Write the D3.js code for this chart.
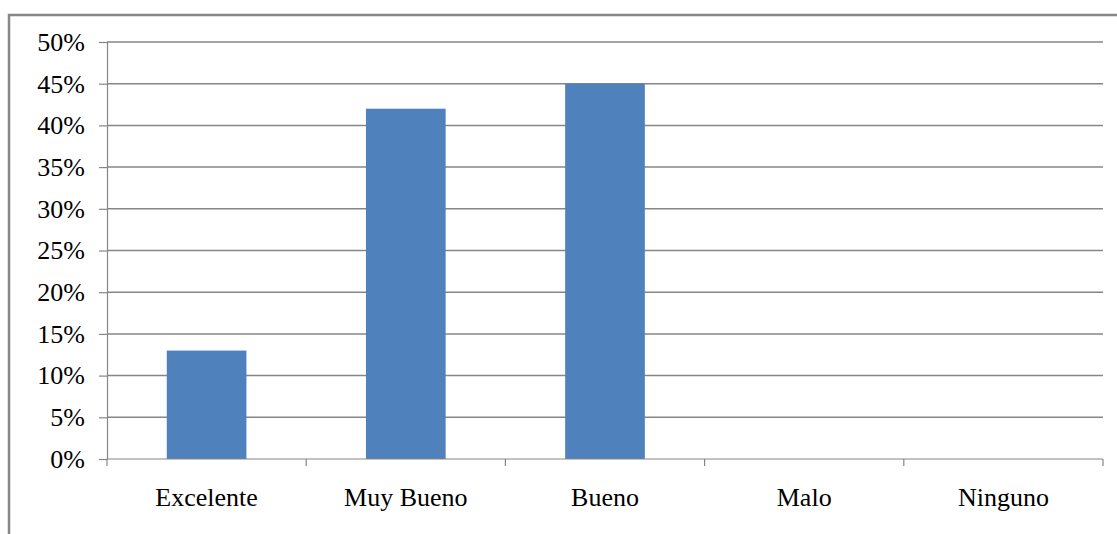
<!DOCTYPE html>
<html>
<head>
<meta charset="utf-8">
<script src="https://cdn.jsdelivr.net/npm/d3@7"></script>
<style>
  body { margin: 0; background: #fff; }
  svg { display: block; }
</style>
</head>
<body>
<svg></svg>
<script>
const categories = ['Excelente', 'Muy Bueno', 'Bueno', 'Malo', 'Ninguno'];
const values = [0.13, 0.42, 0.45, 0, 0];
const yTicks = [0, 0.05, 0.10, 0.15, 0.20, 0.25, 0.30, 0.35, 0.40, 0.45, 0.50];

const width = 1117, height = 534;
const margin = { top: 42, right: 14, bottom: 75, left: 107 };
const serif = '"Liberation Serif", "Times New Roman", serif';

const svg = d3.select('svg').attr('width', width).attr('height', height);

// outer chart frame (cut off at right and bottom)
svg.append('path')
    .attr('d', `M9,${height} V15 H${width}`)
    .attr('fill', 'none')
    .attr('stroke', '#878787')
    .attr('stroke-width', 2.5);

const x = d3.scaleBand()
    .domain(categories)
    .range([margin.left, width - margin.right])
    .paddingInner(0.6)
    .paddingOuter(0.3);

const y = d3.scaleLinear()
    .domain([0, 0.5])
    .range([height - margin.bottom, margin.top]);

// gridlines
svg.append('g')
    .selectAll('line')
    .data(yTicks.slice(1))
    .enter().append('line')
    .attr('x1', margin.left)
    .attr('x2', width - margin.right)
    .attr('y1', d => y(d))
    .attr('y2', d => y(d))
    .attr('stroke', '#868686')
    .attr('stroke-width', 1.5);

// bars
svg.append('g')
    .selectAll('rect')
    .data(values)
    .enter().append('rect')
    .attr('x', (d, i) => x(categories[i]))
    .attr('y', d => y(d))
    .attr('width', x.bandwidth())
    .attr('height', d => y(0) - y(d))
    .attr('fill', '#4f81bd');

// y axis
const yAxis = svg.append('g')
    .attr('transform', `translate(${margin.left},0)`)
    .call(d3.axisLeft(y).tickValues(yTicks).tickFormat(d3.format('.0%')).tickSize(8).tickPadding(14));
yAxis.selectAll('.domain, .tick line').attr('stroke', '#868686').attr('stroke-width', 1.2);
yAxis.selectAll('.tick text')
    .style('font-family', serif)
    .style('font-size', '26px')
    .attr('fill', '#000');

// x axis with ticks between categories
const bounds = d3.range(categories.length + 1).map(i => margin.left + i * (width - margin.right - margin.left) / categories.length);
const xAxisG = svg.append('g')
    .attr('transform', `translate(0,${y(0)})`);
xAxisG.append('line')
    .attr('x1', margin.left).attr('x2', width - margin.right)
    .attr('stroke', '#868686').attr('stroke-width', 1.2);
xAxisG.selectAll('.bound')
    .data(bounds)
    .enter().append('line')
    .attr('class', 'bound')
    .attr('x1', d => d).attr('x2', d => d)
    .attr('y1', 0).attr('y2', 7)
    .attr('stroke', '#868686').attr('stroke-width', 1.2);
xAxisG.selectAll('.label')
    .data(categories)
    .enter().append('text')
    .attr('class', 'label')
    .attr('x', d => x(d) + x.bandwidth() / 2)
    .attr('y', 47)
    .attr('text-anchor', 'middle')
    .attr('fill', '#000')
    .style('font-family', serif)
    .style('font-size', '26px')
    .text(d => d);
</script>
</body>
</html>
